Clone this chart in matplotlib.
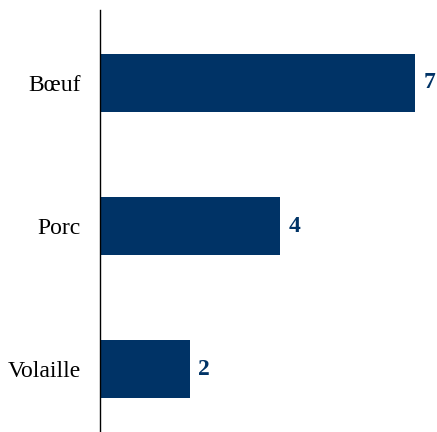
import matplotlib.pyplot as plt

categories = ["Bœuf", "Porc", "Volaille"]
values = [7, 4, 2]

navy = "#003366"

plt.rcParams["font.family"] = "serif"
plt.rcParams["font.serif"] = ["Liberation Serif"]

fig = plt.figure(figsize=(4.37, 4.32), dpi=100)
ax = fig.add_axes([100 / 437, 0, 337.5 / 437, 422 / 432])

pos = list(range(len(categories)))
bars = ax.barh(pos, values, height=0.4, color=navy)

ax.set_xlim(0, 7.5)
ax.set_ylim(2.44, -0.51)
ax.set_yticks(pos)
ax.set_yticklabels(categories, fontsize=17)
ax.tick_params(axis="y", length=0, pad=14)
ax.set_xticks([])

for s in ["top", "right", "bottom"]:
    ax.spines[s].set_visible(False)
ax.spines["left"].set_linewidth(1.0)

# value labels just past the end of each bar
for b, v in zip(bars, values):
    ax.annotate(str(v), (b.get_width(), b.get_y() + b.get_height() / 2),
                xytext=(6, 0), textcoords="offset points",
                va="center", ha="left", fontsize=17, fontweight="bold",
                color=navy)

fig.savefig("out.png", dpi=100)
